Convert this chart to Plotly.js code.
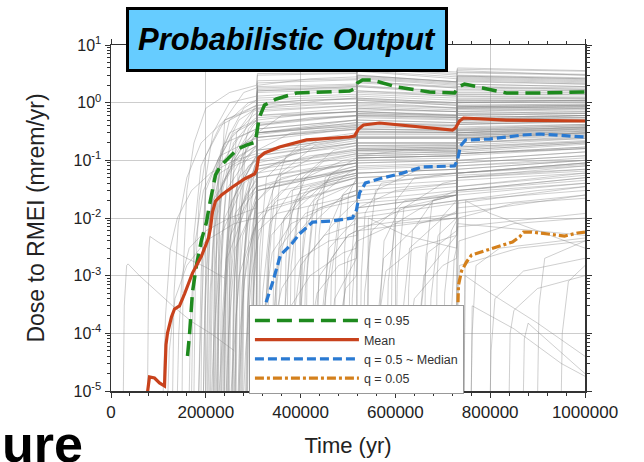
<!DOCTYPE html>
<html>
<head>
<meta charset="utf-8">
<script src="https://cdn.plot.ly/plotly-3.0.1.min.js"></script>
<style>
html,body{margin:0;padding:0;background:#fff;}
#chart{width:644px;height:462px;}
</style>
</head>
<body>
<div id="chart"></div>
<script>
// ---------- data (time in thousands of years, dose in mrem/yr) ----------
const KYR = 1000;

const q95Time = [161.4,165.6,171.9,180.4,190.9,201.5,207.8,214.1,220.5,231.0,250.0,266.9,285.9,304.9,309.1,313.3,323.8,349.2,391.3,439.9,503.2,513.7,520.0,530.6,551.7,602.3,671.9,724.7,733.1,745.8,756.3,783.8,834.4,904.0,1000];
const q95Dose = [4.05e-5,9.4e-5,5.2e-4,1.53e-3,4.15e-3,8.5e-3,1.68e-2,3.3e-2,5.6e-2,7.96e-2,0.114,0.157,0.184,0.207,0.363,0.563,0.908,1.16,1.47,1.53,1.59,1.73,2.19,2.47,2.47,1.87,1.53,1.47,1.87,2.11,2.03,1.80,1.47,1.47,1.53];

const meanTime = [77.0,81.2,91.8,102.3,112.9,116.0,119.2,127.6,134.0,144.5,155.1,171.9,190.9,205.7,209.9,214.1,220.5,233.1,256.3,281.6,302.7,307.0,311.2,323.8,355.5,412.4,503.2,513.7,522.2,532.7,566.5,720.5,726.8,735.2,743.7,834.4,1000];
const meanDose = [9.5e-6,1.75e-5,1.68e-5,1.38e-5,1.22e-5,6.3e-5,1.01e-4,1.92e-4,2.64e-4,2.98e-4,4.81e-4,1.11e-3,2.19e-3,4.5e-3,6.7e-3,1.27e-2,1.97e-2,2.5e-2,3.45e-2,4.75e-2,5.8e-2,6.8e-2,0.110,0.134,0.171,0.226,0.254,0.264,0.349,0.410,0.444,0.336,0.364,0.481,0.542,0.50,0.481];

const q50Time = [302.7,311.2,326.0,340.7,357.6,380.8,397.7,425.1,467.3,509.5,517.9,524.3,536.9,572.8,615.0,657.2,724.7,731.0,737.3,747.9,798.5,868.2,904.0,1000];
const q50Dose = [9.5e-6,7.7e-5,3.23e-4,7.5e-4,2.28e-3,3.54e-3,5.3e-3,8.5e-3,8.9e-3,1.0e-2,1.38e-2,2.72e-2,4.05e-2,4.94e-2,6.0e-2,7.7e-2,7.98e-2,0.101,0.177,0.225,0.234,0.275,0.286,0.254];

const q05Time = [726.8,731.0,733.1,739.5,750.0,760.6,792.2,825.9,847.0,861.8,870.3,887.1,914.6,956.8,984.2,1000];
const q05Dose = [9.5e-6,3.79e-4,6.9e-4,1.2e-3,1.73e-3,2.28e-3,2.79e-3,3.4e-3,3.84e-3,4.68e-3,5.7e-3,5.7e-3,5.3e-3,4.87e-3,5.5e-3,5.7e-3];

// individual realizations: [time kyr, dose]
const realizations = [
 [[26,9e-6],[28,3e-4],[33,1.5e-3],[36,1.6e-3],[60,1e-3],[100,5e-4],[130,3e-4],[170,1.6e-4],[210,1e-4],[260,5e-5]],
 [[77,9e-6],[78,1e-4],[80,3e-3],[82,4.8e-3],[100,3.8e-3],[127,2.8e-3],[160,2e-3],[200,1.4e-3],[240,9e-4]],
 [[110,9e-6],[115,2e-4],[125,3e-3],[140,0.01],[170,0.03],[210,0.06],[260,0.1],[307,0.13],[309,0.3],[518,0.4],[520,0.7],[729,0.6],[731,0.85],[1000,0.9]],
 [[130,9e-6],[133,5e-4],[142,8e-3],[160,0.05],[190,0.2],[240,0.5],[307,0.8],[309,1.6],[518,1.8],[520,2.7],[729,2.1],[731,2.7],[1000,2.4]],
 [[150,9e-6],[152,1e-3],[160,0.03],[175,0.2],[200,0.8],[250,1.5],[307,2],[309,3.2],[518,3.3],[520,4.2],[729,3.4],[731,4],[1000,3.6]],
 [[165,9e-6],[168,2e-4],[178,4e-3],[195,0.03],[230,0.12],[307,0.25],[309,0.55],[518,0.7],[520,1.2],[729,1],[731,1.4],[1000,1.4]],
 [[175,9e-6],[178,1e-3],[186,0.02],[200,0.12],[240,0.5],[307,0.9],[309,1.7],[518,1.9],[520,2.9],[729,2.3],[731,2.9],[1000,2.6]],
 [[185,9e-6],[188,6e-5],[196,2e-3],[215,0.02],[260,0.08],[307,0.12],[309,0.35],[518,0.5],[520,0.85],[729,0.75],[731,1.05],[1000,1.1]],
 [[190,9e-6],[193,3e-3],[200,0.05],[215,0.3],[250,1],[307,1.3],[309,2.4],[518,2.6],[520,3.6],[729,2.8],[731,3.4],[1000,3.1]],
 [[195,9e-6],[198,4e-4],[206,8e-3],[225,0.07],[270,0.25],[307,0.35],[309,0.75],[518,0.9],[520,1.5],[729,1.3],[731,1.8],[1000,1.7]],
 [[140,9e-6],[143,1e-4],[150,1e-3],[165,3e-3],[200,6e-3],[250,0.01],[307,0.015],[309,0.05],[518,0.09],[520,0.2],[729,0.2],[731,0.38],[1000,0.42]],
 [[120,9e-6],[123,5e-5],[135,4e-4],[160,1.5e-3],[200,4e-3],[260,8e-3],[307,0.01],[309,0.035],[518,0.07],[520,0.15],[729,0.16],[731,0.3],[1000,0.35]],
 [[170,9e-6],[175,5e-3],[190,0.08],[230,0.4],[307,0.9],[309,2],[420,2.6],[518,2.8],[520,4.5],[620,3.5],[729,3],[731,3.6],[1000,3]],
 [[185,9e-6],[190,1e-3],[200,0.03],[240,0.2],[307,0.35],[309,0.8],[450,1.1],[518,1.2],[520,2],[729,1.5],[731,2.1],[1000,1.9]],
 [[195,9e-6],[198,2e-4],[208,0.01],[230,0.06],[307,0.15],[309,0.4],[518,0.6],[520,1.1],[729,0.9],[731,1.3],[1000,1.2]],
 [[200,9e-6],[205,1e-3],[215,0.05],[250,0.3],[307,0.5],[309,1.1],[518,1.3],[520,2.2],[729,1.8],[731,2.4],[1000,2.1]],
 [[205,9e-6],[209,5e-4],[220,0.02],[260,0.1],[307,0.18],[309,0.3],[518,0.5],[520,0.8],[729,0.7],[731,1],[1000,1.1]],
 [[210,9e-6],[215,3e-3],[228,0.1],[270,0.5],[307,0.8],[309,1.6],[518,1.9],[520,2.8],[729,2.2],[731,2.9],[1000,2.6]],
 [[212,9e-6],[218,1e-4],[232,5e-3],[280,0.04],[307,0.06],[309,0.15],[518,0.25],[520,0.5],[729,0.45],[731,0.7],[1000,0.8]],
 [[218,9e-6],[222,2e-3],[235,0.04],[280,0.2],[307,0.3],[309,0.6],[518,0.8],[520,1.3],[729,1.1],[731,1.5],[1000,1.5]],
 [[222,9e-6],[226,3e-4],[240,0.01],[290,0.08],[307,0.1],[309,0.25],[518,0.35],[520,0.6],[729,0.55],[731,0.8],[1000,0.85]],
 [[225,9e-6],[229,1e-3],[242,0.03],[300,0.15],[307,0.17],[309,0.45],[518,0.6],[520,0.9],[729,0.8],[731,1.1],[1000,1.1]],
 [[228,9e-6],[233,5e-5],[245,2e-3],[290,0.02],[307,0.03],[309,0.08],[518,0.15],[520,0.3],[729,0.3],[731,0.5],[1000,0.6]],
 [[230,9e-6],[234,4e-3],[248,0.08],[300,0.4],[307,0.45],[309,0.9],[518,1],[520,1.6],[729,1.3],[731,1.7],[1000,1.6]],
 [[233,9e-6],[238,2e-4],[252,5e-3],[300,0.03],[307,0.035],[309,0.1],[518,0.2],[520,0.35],[729,0.32],[731,0.55],[1000,0.6]],
 [[236,9e-6],[240,1e-3],[255,0.02],[300,0.09],[307,0.1],[309,0.3],[518,0.45],[520,0.7],[729,0.6],[731,0.9],[1000,0.95]],
 [[240,9e-6],[244,3e-3],[258,0.06],[300,0.25],[307,0.28],[309,0.6],[518,0.7],[520,1.1],[729,0.9],[731,1.2],[1000,1.2]],
 [[243,9e-6],[248,1e-4],[262,3e-3],[300,0.015],[307,0.02],[309,0.06],[518,0.12],[520,0.25],[729,0.25],[731,0.45],[1000,0.5]],
 [[246,9e-6],[250,5e-4],[265,0.01],[300,0.05],[307,0.055],[309,0.15],[518,0.25],[520,0.45],[729,0.4],[731,0.65],[1000,0.7]],
 [[250,9e-6],[254,2e-3],[268,0.03],[300,0.1],[307,0.12],[309,0.35],[518,0.5],[520,0.8],[729,0.7],[731,1],[1000,1]],
 [[253,9e-6],[257,3e-5],[270,1e-3],[300,6e-3],[307,8e-3],[309,0.03],[518,0.07],[520,0.15],[729,0.16],[731,0.3],[1000,0.38]],
 [[256,9e-6],[260,8e-4],[274,0.015],[307,0.05],[309,0.12],[518,0.2],[520,0.35],[729,0.33],[731,0.55],[1000,0.6]],
 [[260,9e-6],[264,2e-4],[278,5e-3],[307,0.02],[309,0.07],[518,0.13],[520,0.25],[729,0.25],[731,0.42],[1000,0.48]],
 [[264,9e-6],[268,4e-3],[282,0.05],[307,0.12],[309,0.3],[518,0.4],[520,0.65],[729,0.6],[731,0.85],[1000,0.9]],
 [[268,9e-6],[272,1e-4],[286,2e-3],[307,0.008],[309,0.03],[518,0.07],[520,0.14],[729,0.15],[731,0.28],[1000,0.35]],
 [[272,9e-6],[276,6e-4],[290,0.01],[307,0.025],[309,0.08],[518,0.14],[520,0.26],[729,0.26],[731,0.45],[1000,0.5]],
 [[276,9e-6],[280,2e-3],[294,0.02],[307,0.04],[309,0.12],[518,0.22],[520,0.38],[729,0.36],[731,0.6],[1000,0.65]],
 [[280,9e-6],[284,5e-5],[297,1e-3],[307,3e-3],[309,0.012],[518,0.04],[520,0.09],[729,0.1],[731,0.2],[1000,0.25]],
 [[284,9e-6],[288,3e-4],[300,4e-3],[307,8e-3],[309,0.03],[518,0.08],[520,0.16],[729,0.17],[731,0.3],[1000,0.36]],
 [[288,9e-6],[292,1e-3],[302,0.01],[307,0.015],[309,0.05],[518,0.1],[520,0.2],[729,0.2],[731,0.36],[1000,0.42]],
 [[292,9e-6],[296,1e-4],[305,1.5e-3],[309,8e-3],[350,0.02],[518,0.05],[520,0.11],[729,0.12],[731,0.24],[1000,0.3]],
 [[296,9e-6],[300,5e-4],[306,3e-3],[309,0.02],[360,0.05],[518,0.09],[520,0.18],[729,0.18],[731,0.33],[1000,0.38]],
 [[300,9e-6],[303,2e-5],[307,2e-4],[309,4e-3],[330,0.015],[518,0.04],[520,0.08],[729,0.09],[731,0.18],[1000,0.24]],
 [[306,9e-6],[307,9e-6],[308,5e-3],[309,0.02],[340,0.04],[518,0.07],[520,0.15],[729,0.15],[731,0.28],[1000,0.33]],
 [[306,9e-6],[307,9e-6],[308,1e-3],[310,6e-3],[350,0.012],[518,0.025],[520,0.06],[729,0.07],[731,0.15],[1000,0.2]],
 [[315,9e-6],[320,5e-4],[335,8e-3],[380,0.03],[518,0.06],[520,0.12],[729,0.13],[731,0.25],[1000,0.3]],
 [[325,9e-6],[330,2e-3],[345,0.02],[400,0.06],[518,0.09],[520,0.2],[729,0.2],[731,0.35],[1000,0.4]],
 [[335,9e-6],[340,1e-4],[355,3e-3],[410,0.012],[518,0.025],[520,0.06],[729,0.07],[731,0.14],[1000,0.19]],
 [[345,9e-6],[350,7e-4],[365,0.01],[420,0.035],[518,0.055],[520,0.12],[729,0.13],[731,0.24],[1000,0.3]],
 [[360,9e-6],[365,2e-4],[380,4e-3],[440,0.015],[518,0.025],[520,0.06],[729,0.07],[731,0.15],[1000,0.2]],
 [[375,9e-6],[380,1.5e-3],[395,0.015],[450,0.04],[518,0.055],[520,0.11],[729,0.12],[731,0.22],[1000,0.27]],
 [[390,9e-6],[395,1e-4],[410,2e-3],[470,8e-3],[518,0.012],[520,0.035],[729,0.045],[731,0.1],[1000,0.14]],
 [[405,9e-6],[410,6e-4],[425,8e-3],[490,0.025],[518,0.03],[520,0.07],[729,0.08],[731,0.16],[1000,0.21]],
 [[420,9e-6],[425,3e-5],[440,1e-3],[500,5e-3],[518,6e-3],[520,0.02],[729,0.03],[731,0.07],[1000,0.1]],
 [[440,9e-6],[445,2e-4],[460,3e-3],[518,0.01],[520,0.03],[729,0.04],[731,0.09],[1000,0.12]],
 [[460,9e-6],[465,1e-3],[480,0.01],[518,0.02],[520,0.05],[729,0.06],[731,0.13],[1000,0.17]],
 [[480,9e-6],[485,1e-4],[500,2e-3],[518,4e-3],[520,0.015],[729,0.025],[731,0.06],[1000,0.09]],
 [[517,9e-6],[518,9e-6],[519,3e-3],[521,0.015],[600,0.03],[729,0.04],[731,0.09],[1000,0.12]],
 [[517,9e-6],[518,9e-6],[519,8e-4],[522,6e-3],[620,0.015],[729,0.02],[731,0.05],[1000,0.08]],
 [[530,9e-6],[535,5e-4],[550,6e-3],[620,0.02],[729,0.028],[731,0.07],[1000,0.1]],
 [[555,9e-6],[560,1e-4],[575,2e-3],[650,8e-3],[729,0.012],[731,0.035],[1000,0.06]],
 [[580,9e-6],[585,8e-4],[600,8e-3],[680,0.02],[729,0.025],[731,0.06],[1000,0.09]],
 [[610,9e-6],[615,2e-4],[630,3e-3],[700,0.01],[729,0.013],[731,0.035],[1000,0.055]],
 [[640,9e-6],[645,5e-5],[660,1e-3],[720,4e-3],[729,5e-3],[731,0.018],[1000,0.035]],
 [[670,9e-6],[675,4e-4],[690,5e-3],[729,0.01],[731,0.03],[1000,0.05]],
 [[728,9e-6],[729,9e-6],[730,2e-3],[733,0.01],[850,0.018],[1000,0.022]],
 [[728,9e-6],[729,9e-6],[730,5e-4],[734,4e-3],[850,8e-3],[1000,0.01]],
 [[728,9e-6],[729,9e-6],[730,1e-4],[735,1.5e-3],[860,3e-3],[1000,4e-3]],
 [[728,9e-6],[729,9e-6],[730,4e-3],[733,0.02],[900,0.03],[1000,0.035]],
 [[215,9e-6],[219,6e-3],[232,0.15],[280,0.8],[307,1.1],[309,2.2],[518,2.5],[520,3.5],[729,2.6],[731,3.3],[1000,3]],
 [[238,9e-6],[242,2e-3],[255,0.1],[300,0.7],[307,0.75],[309,1.5],[518,1.7],[520,2.6],[729,2],[731,2.6],[1000,2.3]],
 [[248,9e-6],[252,1e-2],[265,0.3],[307,0.9],[309,1.8],[518,2],[520,3],[729,2.3],[731,3],[1000,2.7]],
 [[262,9e-6],[266,5e-3],[280,0.12],[307,0.3],[309,0.7],[518,0.9],[520,1.4],[729,1.2],[731,1.6],[1000,1.6]],
 [[274,9e-6],[278,1e-3],[292,0.04],[307,0.1],[309,0.3],[518,0.45],[520,0.75],[729,0.7],[731,1],[1000,1.05]],
 [[286,9e-6],[290,4e-3],[302,0.06],[307,0.09],[309,0.25],[518,0.35],[520,0.6],[729,0.55],[731,0.8],[1000,0.85]],
 [[298,9e-6],[301,1e-3],[306,0.01],[309,0.06],[400,0.15],[518,0.2],[520,0.4],[729,0.38],[731,0.6],[1000,0.65]],
 [[310,9e-6],[314,3e-3],[328,0.05],[400,0.2],[518,0.28],[520,0.5],[729,0.45],[731,0.7],[1000,0.75]],
 [[320,9e-6],[324,2e-4],[338,5e-3],[420,0.03],[518,0.05],[520,0.1],[729,0.11],[731,0.2],[1000,0.26]],
 [[340,9e-6],[344,5e-3],[358,0.06],[430,0.18],[518,0.24],[520,0.45],[729,0.42],[731,0.65],[1000,0.7]],
 [[365,9e-6],[369,2e-3],[383,0.03],[450,0.1],[518,0.13],[520,0.28],[729,0.28],[731,0.48],[1000,0.52]],
 [[385,9e-6],[389,4e-3],[403,0.05],[470,0.15],[518,0.18],[520,0.35],[729,0.34],[731,0.55],[1000,0.6]],
 [[410,9e-6],[414,1.5e-3],[428,0.02],[500,0.06],[518,0.07],[520,0.16],[729,0.17],[731,0.32],[1000,0.37]],
 [[435,9e-6],[439,5e-3],[452,0.05],[518,0.11],[520,0.24],[729,0.24],[731,0.42],[1000,0.47]],
 [[470,9e-6],[474,2e-3],[488,0.025],[518,0.045],[520,0.11],[729,0.12],[731,0.24],[1000,0.29]],
 [[500,9e-6],[504,1e-3],[515,0.01],[518,0.013],[520,0.04],[729,0.055],[731,0.12],[1000,0.16]],
 [[540,9e-6],[544,3e-3],[558,0.03],[650,0.07],[729,0.08],[731,0.17],[1000,0.22]],
 [[600,9e-6],[604,1e-3],[618,0.015],[700,0.04],[729,0.045],[731,0.1],[1000,0.14]],
 [[660,9e-6],[664,2e-3],[678,0.02],[729,0.03],[731,0.08],[1000,0.11]],
 [[700,9e-6],[704,5e-4],[718,6e-3],[729,9e-3],[731,0.03],[1000,0.05]],
 [[226,9e-6],[229,0.02],[240,0.5],[280,1.5],[307,1.8],[309,3],[518,3.2],[520,4],[729,3.2],[731,3.8],[1000,3.5]],
 [[244,9e-6],[247,0.01],[258,0.2],[300,0.5],[307,0.55],[309,1.2],[518,1.4],[520,2.3],[729,1.9],[731,2.5],[1000,2.2]],
 [[270,9e-6],[273,0.01],[285,0.2],[307,0.35],[309,0.8],[518,1],[520,1.6],[729,1.4],[731,1.9],[1000,1.8]],
 [[300,9e-6],[302,3e-3],[307,0.02],[309,0.3],[360,0.6],[518,0.7],[520,1.2],[729,1],[731,1.4],[1000,1.4]],
 [[760,9e-6],[762,1e-4],[770,1.5e-3],[820,3e-3],[1000,4.5e-3]],
 [[800,9e-6],[802,5e-5],[810,4e-4],[870,1.2e-3],[1000,2e-3]],
 [[840,9e-6],[842,1e-4],[850,2.5e-4],[900,6e-4],[1000,1e-3]],
 [[870,9e-6],[872,8e-5],[880,1.5e-4],[1000,2e-5]],
 [[745,9e-6],[747,1e-3],[800,5e-4],[900,1.5e-4],[1000,4e-5]],
 [[760,9e-6],[762,3e-4],[850,1.2e-4],[950,3e-5],[1000,1.8e-5]],
 [[900,9e-6],[903,3e-4],[915,2e-3],[1000,4e-3]],
 [[950,9e-6],[952,1e-4],[965,8e-4],[1000,1.5e-3]],
 [[745,9e-6],[748,0.02],[800,0.012],[900,6e-3],[1000,3e-3]],
 [[540,9e-6],[543,0.01],[620,5e-3],[729,3e-3],[731,8e-3],[1000,5e-3]],
 [[203,9e-6],[206,2e-3],[212,0.02],[225,0.1],[260,0.3],[300,0.45],[307,0.48],[309,0.9],[400,1.1],[518,1.15],[520,1.9],[600,1.7],[729,1.4],[731,1.9],[850,1.8],[1000,1.7]],
 [[208,9e-6],[211,5e-4],[218,6e-3],[235,0.04],[270,0.12],[307,0.18],[309,0.4],[420,0.55],[518,0.6],[520,1.0],[640,0.9],[729,0.8],[731,1.15],[1000,1.2]],
 [[216,9e-6],[219,1e-3],[226,0.012],[245,0.07],[285,0.2],[307,0.24],[309,0.5],[430,0.65],[518,0.7],[520,1.15],[729,0.95],[731,1.3],[1000,1.3]],
 [[224,9e-6],[227,3e-3],[234,0.04],[255,0.25],[300,0.6],[307,0.65],[309,1.3],[440,1.5],[518,1.55],[520,2.4],[729,1.8],[731,2.3],[1000,2.1]],
 [[232,9e-6],[235,2e-4],[243,2e-3],[262,0.012],[300,0.03],[307,0.035],[309,0.09],[410,0.14],[518,0.18],[520,0.32],[729,0.3],[731,0.5],[1000,0.55]],
 [[239,9e-6],[242,7e-4],[250,8e-3],[270,0.05],[307,0.11],[309,0.28],[450,0.38],[518,0.42],[520,0.7],[729,0.62],[731,0.9],[1000,0.92]],
 [[247,9e-6],[250,1.5e-3],[258,0.02],[280,0.1],[307,0.18],[309,0.42],[460,0.55],[518,0.58],[520,0.95],[729,0.82],[731,1.1],[1000,1.1]],
 [[255,9e-6],[258,3e-4],[266,4e-3],[285,0.025],[307,0.045],[309,0.13],[450,0.2],[518,0.24],[520,0.42],[729,0.4],[731,0.62],[1000,0.66]],
 [[262,9e-6],[265,1e-3],[273,0.012],[292,0.05],[307,0.08],[309,0.22],[470,0.32],[518,0.34],[520,0.58],[729,0.52],[731,0.78],[1000,0.8]],
 [[270,9e-6],[273,4e-5],[281,8e-4],[298,5e-3],[307,8e-3],[309,0.035],[430,0.07],[518,0.09],[520,0.18],[729,0.19],[731,0.34],[1000,0.4]],
 [[278,9e-6],[281,2e-3],[289,0.025],[303,0.08],[307,0.09],[309,0.25],[480,0.35],[518,0.37],[520,0.62],[729,0.56],[731,0.82],[1000,0.84]],
 [[287,9e-6],[290,5e-4],[298,7e-3],[307,0.02],[309,0.07],[420,0.12],[518,0.15],[520,0.3],[729,0.3],[731,0.5],[1000,0.55]],
 [[295,9e-6],[298,2e-3],[304,0.02],[307,0.03],[309,0.15],[380,0.3],[518,0.38],[520,0.65],[729,0.58],[731,0.85],[1000,0.88]],
 [[303,9e-6],[305,1e-4],[307,1e-3],[309,0.01],[360,0.03],[518,0.06],[520,0.13],[729,0.14],[731,0.26],[1000,0.32]],
 [[312,9e-6],[315,8e-4],[323,0.01],[350,0.05],[430,0.12],[518,0.16],[520,0.32],[729,0.31],[731,0.52],[1000,0.56]],
 [[330,9e-6],[333,3e-3],[341,0.03],[370,0.12],[450,0.25],[518,0.3],[520,0.55],[729,0.5],[731,0.75],[1000,0.78]],
 [[350,9e-6],[353,2e-4],[361,3e-3],[390,0.02],[470,0.05],[518,0.06],[520,0.13],[729,0.14],[731,0.27],[1000,0.32]],
 [[370,9e-6],[373,1e-3],[381,0.012],[410,0.05],[490,0.1],[518,0.11],[520,0.24],[729,0.24],[731,0.42],[1000,0.46]],
 [[395,9e-6],[398,4e-4],[406,5e-3],[435,0.02],[500,0.035],[518,0.04],[520,0.09],[729,0.1],[731,0.2],[1000,0.24]],
 [[425,9e-6],[428,2e-3],[436,0.02],[465,0.06],[518,0.08],[520,0.17],[729,0.18],[731,0.33],[1000,0.37]],
 [[450,9e-6],[453,6e-4],[461,7e-3],[490,0.025],[518,0.03],[520,0.075],[729,0.085],[731,0.17],[1000,0.21]],
 [[490,9e-6],[493,3e-3],[501,0.025],[518,0.05],[520,0.12],[620,0.15],[729,0.14],[731,0.27],[1000,0.3]],
 [[525,9e-6],[528,1e-3],[536,0.012],[570,0.04],[729,0.06],[731,0.13],[1000,0.17]],
 [[565,9e-6],[568,3e-4],[576,4e-3],[610,0.015],[729,0.025],[731,0.06],[1000,0.09]],
 [[590,9e-6],[593,2e-3],[601,0.02],[640,0.05],[729,0.06],[731,0.13],[1000,0.16]],
 [[625,9e-6],[628,6e-4],[636,6e-3],[680,0.02],[729,0.025],[731,0.06],[1000,0.085]],
 [[685,9e-6],[688,1e-3],[696,0.01],[729,0.02],[731,0.05],[1000,0.07]],
 [[715,9e-6],[718,2e-4],[724,2e-3],[729,3e-3],[731,0.012],[1000,0.025]],
 [[220,9e-6],[223,8e-3],[230,0.1],[250,0.5],[290,1.0],[307,1.1],[309,1.9],[518,2.1],[520,3.0],[729,2.3],[731,2.8],[1000,2.5]],
 [[258,9e-6],[261,5e-3],[268,0.06],[290,0.35],[307,0.5],[309,1.0],[518,1.2],[520,1.9],[729,1.6],[731,2.1],[1000,1.9]],
 [[330,9e-6],[340,1e-4],[360,6e-4],[400,2e-3],[460,4e-3],[518,5e-3],[520,0.015],[729,0.025],[731,0.06],[1000,0.08]],
 [[355,9e-6],[362,5e-5],[380,3e-4],[420,1e-3],[490,2.5e-3],[518,3e-3],[520,0.01],[729,0.018],[731,0.045],[1000,0.06]],
 [[380,9e-6],[386,2e-4],[400,1.5e-3],[450,5e-3],[518,8e-3],[520,0.025],[729,0.035],[731,0.08],[1000,0.1]],
 [[410,9e-6],[418,8e-5],[435,5e-4],[480,1.5e-3],[518,2e-3],[520,7e-3],[729,0.012],[731,0.03],[1000,0.045]],
 [[445,9e-6],[450,3e-4],[465,2e-3],[500,5e-3],[518,6e-3],[520,0.018],[729,0.025],[731,0.055],[1000,0.07]],
 [[470,9e-6],[478,1e-4],[495,6e-4],[518,1e-3],[520,4e-3],[600,8e-3],[729,0.01],[731,0.025],[1000,0.04]],
 [[560,9e-6],[566,2e-4],[580,1.2e-3],[640,3e-3],[729,5e-3],[731,0.015],[1000,0.025]],
 [[620,9e-6],[626,6e-5],[640,4e-4],[700,1.5e-3],[729,2e-3],[731,7e-3],[1000,0.012]],
 [[650,9e-6],[655,3e-4],[668,2.5e-3],[729,6e-3],[731,0.02],[1000,0.03]],
 [[318,9e-6],[325,3e-4],[340,2.5e-3],[380,8e-3],[450,0.015],[518,0.02],[520,0.05],[729,0.06],[731,0.13],[1000,0.16]],
 [[342,9e-6],[348,1e-3],[360,8e-3],[400,0.03],[518,0.05],[520,0.11],[729,0.12],[731,0.23],[1000,0.28]],
 [[398,9e-6],[404,2e-3],[416,0.015],[460,0.05],[518,0.07],[520,0.15],[729,0.16],[731,0.3],[1000,0.34]],
 [[455,9e-6],[460,5e-5],[472,4e-4],[510,1.5e-3],[518,2e-3],[520,6e-3],[729,0.01],[731,0.028],[1000,0.04]],
 [[505,9e-6],[509,4e-4],[516,3e-3],[518,4e-3],[520,0.012],[729,0.02],[731,0.05],[1000,0.065]]
];

const xTicks = [0,200000,400000,600000,800000,1000000];
const xTickText = ['0','200000','400000','600000','800000','1000000'];
const yTicks = [1e-5,1e-4,1e-3,1e-2,1e-1,1,10];
const yTickText = ['10<sup>-5</sup>','10<sup>-4</sup>','10<sup>-3</sup>','10<sup>-2</sup>','10<sup>-1</sup>','10<sup>0</sup>','10<sup>1</sup>'];

// ---------- traces ----------
const traces = [];
realizations.forEach(function(run){
  traces.push({
    x: run.map(function(p){return p[0]*KYR;}),
    y: run.map(function(p){return p[1];}),
    type:'scatter', mode:'lines', hoverinfo:'skip', showlegend:false,
    line:{color:'rgba(135,135,135,0.5)', width:0.8}
  });
});
function toYears(arr){ return arr.map(function(t){return t*KYR;}); }
traces.push({x:toYears(q95Time), y:q95Dose, type:'scatter', mode:'lines', name:'q = 0.95', legendrank:1,
  line:{color:'#1e8a1e', width:3.5, dash:'15px,7px'}});
traces.push({x:toYears(q50Time), y:q50Dose, type:'scatter', mode:'lines', name:'q = 0.5 ~ Median', legendrank:3,
  line:{color:'#2a7ad2', width:3.2, dash:'9px,4px'}});
traces.push({x:toYears(q05Time), y:q05Dose, type:'scatter', mode:'lines', name:'q = 0.05', legendrank:4,
  line:{color:'#d4801c', width:3.2, dash:'9px,3px,3px,3px'}});
traces.push({x:toYears(meanTime), y:meanDose, type:'scatter', mode:'lines', name:'Mean', legendrank:2,
  line:{color:'#c8421c', width:3.2}});

const FONT = 'Arial, Liberation Sans, sans-serif';

const layout = {
  width:644, height:462,
  margin:{l:111, r:59, t:45, b:71},
  paper_bgcolor:'#fff', plot_bgcolor:'#fff',
  showlegend:true,
  legend:{x:0.291, y:0.249, xanchor:'left', yanchor:'top', bgcolor:'#fff', bordercolor:'#999', borderwidth:1,
    font:{family:FONT, size:12.5, color:'#333'}, itemwidth:104, tracegroupgap:0, traceorder:'normal'},
  xaxis:{
    range:[0,1000000], tickvals:xTicks, ticktext:xTickText,
    ticks:'outside', ticklen:5, tickwidth:1, tickcolor:'#333',
    showline:true, linecolor:'#333', linewidth:1.5, mirror:'ticks',
    showgrid:true, gridcolor:'#cdcdcd', gridwidth:1, zeroline:false,
    tickfont:{family:FONT, size:17, color:'#222'},
    minor:{ticks:'outside', ticklen:3, dtick:40000, tickcolor:'#333', showgrid:false},
    title:{text:'Time (yr)', font:{family:FONT, size:22, color:'#222'}, standoff:16},
    automargin:false
  },
  yaxis:{
    type:'log', range:[-5,1], tickvals:yTicks, ticktext:yTickText,
    ticks:'outside', ticklen:5, tickwidth:1, tickcolor:'#333',
    showline:true, linecolor:'#333', linewidth:1.5, mirror:'ticks',
    showgrid:true, gridcolor:'#cdcdcd', gridwidth:1, zeroline:false,
    tickfont:{family:FONT, size:16, color:'#222'},
    minor:{ticks:'outside', ticklen:3, dtick:'D1', tickcolor:'#333', showgrid:false},
    title:{text:'Dose to RMEI (mrem/yr)', font:{family:FONT, size:23, color:'#222'}, standoff:22},
    automargin:false
  },
  annotations:[
    {text:'<b><i>Probabilistic Output</i></b>', xref:'paper', yref:'paper', x:0.3713, y:1.0159,
     xanchor:'center', yanchor:'middle', showarrow:false, width:316, height:59, borderpad:0,
     bgcolor:'#66ccff', bordercolor:'#000', borderwidth:3,
     font:{family:FONT, size:31, color:'#000'}},
    {text:'<b>ure</b>', xref:'paper', yref:'paper', x:-0.234, y:-0.153, xanchor:'left', yanchor:'middle',
     showarrow:false, font:{family:FONT, size:52, color:'#000'}}
  ]
};

Plotly.newPlot('chart', traces, layout, {displayModeBar:false, staticPlot:true});
</script>
</body>
</html>
